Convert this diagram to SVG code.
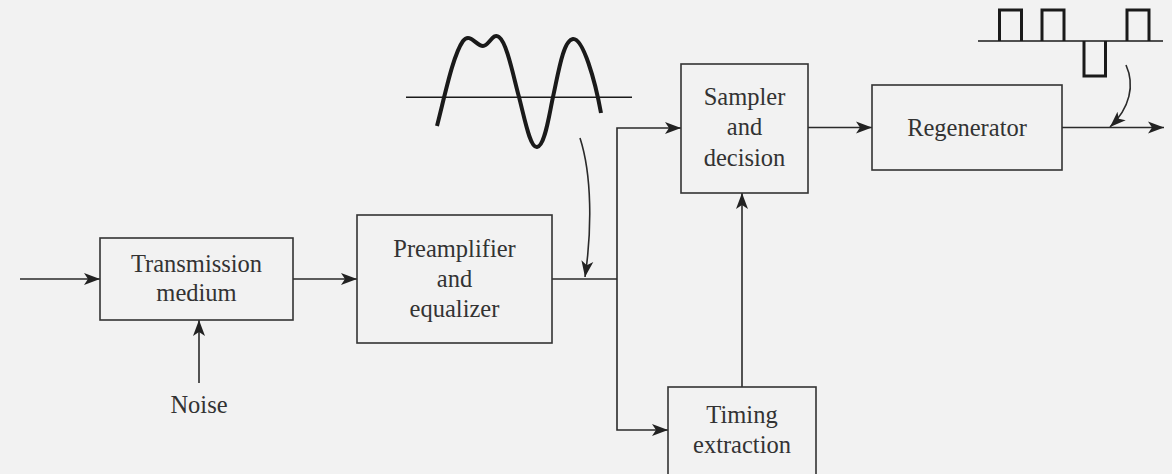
<svg xmlns="http://www.w3.org/2000/svg" width="1172" height="474" viewBox="0 0 1172 474">
<defs>
<marker id="ah" markerUnits="userSpaceOnUse" markerWidth="18" markerHeight="14" refX="16" refY="7" orient="auto">
<path d="M0,1 L16,7 L0,13 L4,7 z" fill="#222"/>
</marker>
</defs>
<style>
.box{fill:none;stroke:#333;stroke-width:1.6}
.ln{fill:none;stroke:#2a2a2a;stroke-width:1.6}
.t{font-size:24.5px;fill:#333;text-anchor:middle}
.wave{fill:none;stroke:#1a1a1a;stroke-width:4;stroke-linecap:butt;stroke-linejoin:round}
.pulse{fill:none;stroke:#1a1a1a;stroke-width:3}
</style>
<rect width="1172" height="474" fill="#f2f2f2"/>

<g id="connectors">
<line class="ln" x1="20" y1="279" x2="100" y2="279" marker-end="url(#ah)"/>
<line class="ln" x1="199" y1="383" x2="199" y2="320" marker-end="url(#ah)"/>
<line class="ln" x1="293" y1="279" x2="357" y2="279" marker-end="url(#ah)"/>
<polyline class="ln" points="552,279 617,279"/>
<polyline class="ln" points="617,279 617,128 681,128" marker-end="url(#ah)"/>
<polyline class="ln" points="617,279 617,430 668,430" marker-end="url(#ah)"/>
<line class="ln" x1="742" y1="387" x2="742" y2="193" marker-end="url(#ah)"/>
<line class="ln" x1="808" y1="127.5" x2="872" y2="127.5" marker-end="url(#ah)"/>
<line class="ln" x1="1062" y1="127.5" x2="1164" y2="127.5" marker-end="url(#ah)"/>
<path class="ln" d="M580,138 C592,175 592,230 585,277" marker-end="url(#ah)"/>
<path class="ln" d="M1126,65 C1135,85 1130,108 1110,127" marker-end="url(#ah)"/>
</g>

<g id="waveform">
<line x1="406" y1="97.3" x2="632" y2="97.3" stroke="#1a1a1a" stroke-width="1.6"/>
<path class="wave" d="M437,126 C445,95 453,55 463,41 C470,32 476,46 483,46 C489,46 493,32 499,37 C507,43 513,75 519,97 C525,120 530,148 537,147 C545,146 549,115 553,97 C558,75 563,40 573,39 C583,38 595,80 601,113"/>
</g>

<g id="pulses">
<line x1="978" y1="41" x2="1163" y2="41" stroke="#1a1a1a" stroke-width="1.6"/>
<polyline class="pulse" points="999.5,41 999.5,10 1021.5,10 1021.5,41"/>
<polyline class="pulse" points="1042,41 1042,10 1064,10 1064,41"/>
<polyline class="pulse" points="1084,41 1084,76 1105.5,76 1105.5,41"/>
<polyline class="pulse" points="1127,41 1127,10 1149,10 1149,41"/>
</g>

<g font-family="Liberation Serif, Times New Roman, serif">
<g id="transmission">
<rect class="box" x="100" y="238" width="193" height="82"/>
<text class="t" x="196.5" y="272">Transmission</text>
<text class="t" x="196.5" y="301">medium</text>
</g>

<g id="noise">
<text class="t" x="199" y="413">Noise</text>
</g>

<g id="preamp">
<rect class="box" x="357" y="215" width="195" height="128"/>
<text class="t" x="454.5" y="257">Preamplifier</text>
<text class="t" x="454.5" y="287">and</text>
<text class="t" x="454.5" y="317">equalizer</text>
</g>

<g id="sampler">
<rect class="box" x="681" y="64" width="127" height="129"/>
<text class="t" x="744.5" y="105">Sampler</text>
<text class="t" x="744.5" y="135">and</text>
<text class="t" x="744.5" y="166">decision</text>
</g>

<g id="regenerator">
<rect class="box" x="872" y="85" width="190" height="85"/>
<text class="t" x="967" y="136">Regenerator</text>
</g>

<g id="timing">
<rect class="box" x="668" y="387" width="148" height="92"/>
<text class="t" x="742" y="423">Timing</text>
<text class="t" x="742" y="453">extraction</text>
</g>
</g>
</svg>
